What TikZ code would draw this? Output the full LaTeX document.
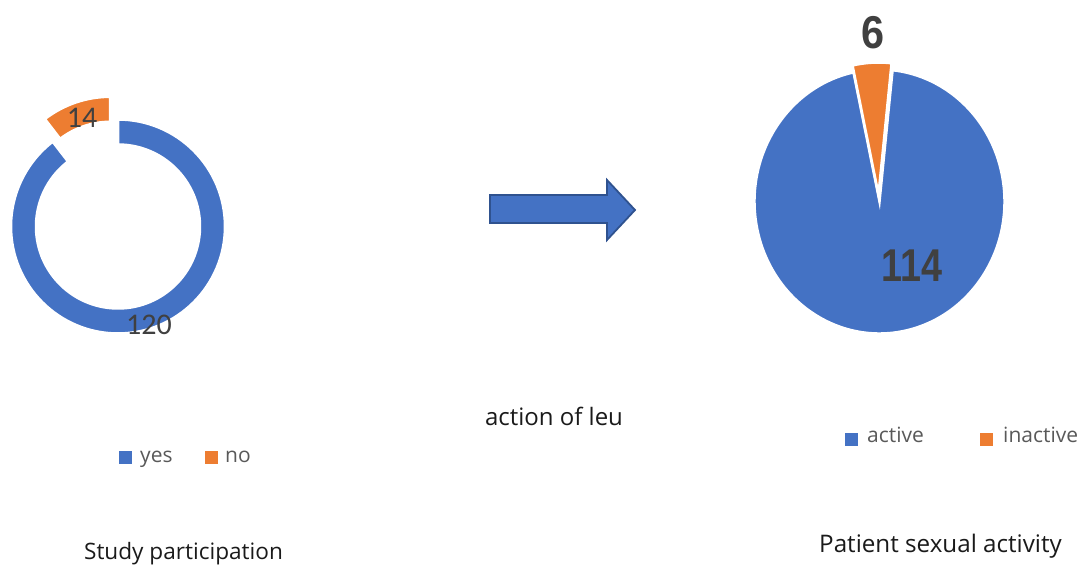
\documentclass[tikz,border=0pt]{standalone}
\usepackage{fontspec}
\setmainfont{Open Sans}
\newfontfamily\numfont{Carlito}
\newfontfamily\boldnum{Liberation Sans}
\usetikzlibrary{calc}
\definecolor{cblue}{HTML}{4472C4}
\definecolor{corange}{HTML}{ED7D31}
\definecolor{cnavy}{HTML}{2F528F}
\definecolor{cgray}{HTML}{595959}
\definecolor{cdark}{HTML}{404040}
\definecolor{ctitle}{HTML}{1A1A1A}
\tikzset{
  slice/.style={draw=white, line width=2.5pt, line join=miter},
  numlabel/.style={inner sep=0pt, text=cdark, font=\numfont\fontsize{30}{32}\selectfont},
  boldlabel/.style={inner sep=0pt, text=cdark, font=\boldnum\bfseries\fontsize{46}{48}\selectfont},
  legsq/.style={inner sep=0pt, minimum size=13pt},
  legtext/.style={inner sep=0pt, anchor=base west, text=cgray, font=\fontsize{21}{24}\selectfont},
  title/.style={inner sep=0pt, anchor=base, text=ctitle, font=\fontsize{23.5}{26}\selectfont},
  bigarrow/.style={fill=cblue, draw=cnavy, line width=1.8pt, line join=miter}
}
\begin{document}
\begin{tikzpicture}[x=1pt,y=1pt]
\useasboundingbox (0,0) rectangle (1085,567);
% donut
\coordinate (dc) at (118,340.5);
\coordinate (dco) at (110.2,363.2);
\path[slice, fill=cblue] ($(dc)+(90:107)$) arc[start angle=90,end angle=-232.4,radius=107]
  -- ($(dc)+(-232.4:82)$) arc[start angle=-232.4,end angle=90,radius=82] -- cycle;
\path[slice, fill=corange] ($(dco)+(90:107)$) arc[start angle=90,end angle=127.6,radius=107]
  -- ($(dco)+(127.6:82)$) arc[start angle=127.6,end angle=90,radius=82] -- cycle;
\node[numlabel] (n14) at (82,449) {14};
\node[numlabel] (n120) at (149,242) {120};
% pie
\begin{scope}[shift={(879.5,365.5)}, yscale=1.056]
\coordinate (pc) at (0,0);
\coordinate (pco) at (-1,6.6);
\path[slice, fill=cblue] (pc) -- ($(pc)+(102:125)$) arc[start angle=102,end angle=444,radius=125] -- cycle;
\path[slice, fill=corange] (pco) -- ($(pco)+(84:125)$) arc[start angle=84,end angle=102,radius=125] -- cycle;
\end{scope}
\node[boldlabel] (n6) at (873,534) {\scalebox{0.9}[1]{6}};
\node[boldlabel] (n114) at (912,301) {\scalebox{0.82}[1]{114}};
% arrow
\path[bigarrow] (490,372) -- (607,372) -- (607,387) -- (635,357) -- (607,327) -- (607,344) -- (490,344) -- cycle;
% legends
\node[legsq, fill=cblue] (sqyes) at (125,109.5) {};
\node[legtext] (tyes) at (140,104) {yes};
\node[legsq, fill=corange] (sqno) at (211.5,109.5) {};
\node[legtext] (tno) at (225,104) {no};
\node[legsq, fill=cblue] (sqact) at (851,127) {};
\node[legtext] (tact) at (867,124) {active};
\node[legsq, fill=corange] (sqina) at (986,127) {};
\node[legtext] (tina) at (1003,124) {inactive};
% titles
\node[title, font=\fontsize{24}{26}\selectfont] (tmid) at (554,141) {action of leu};
\node[title, font=\fontsize{22.6}{26}\selectfont] (tleft) at (183.5,7) {Study participation};
\node[title, font=\fontsize{24.2}{26}\selectfont] (tright) at (940.5,14) {Patient sexual activity};
\end{tikzpicture}
\end{document}
